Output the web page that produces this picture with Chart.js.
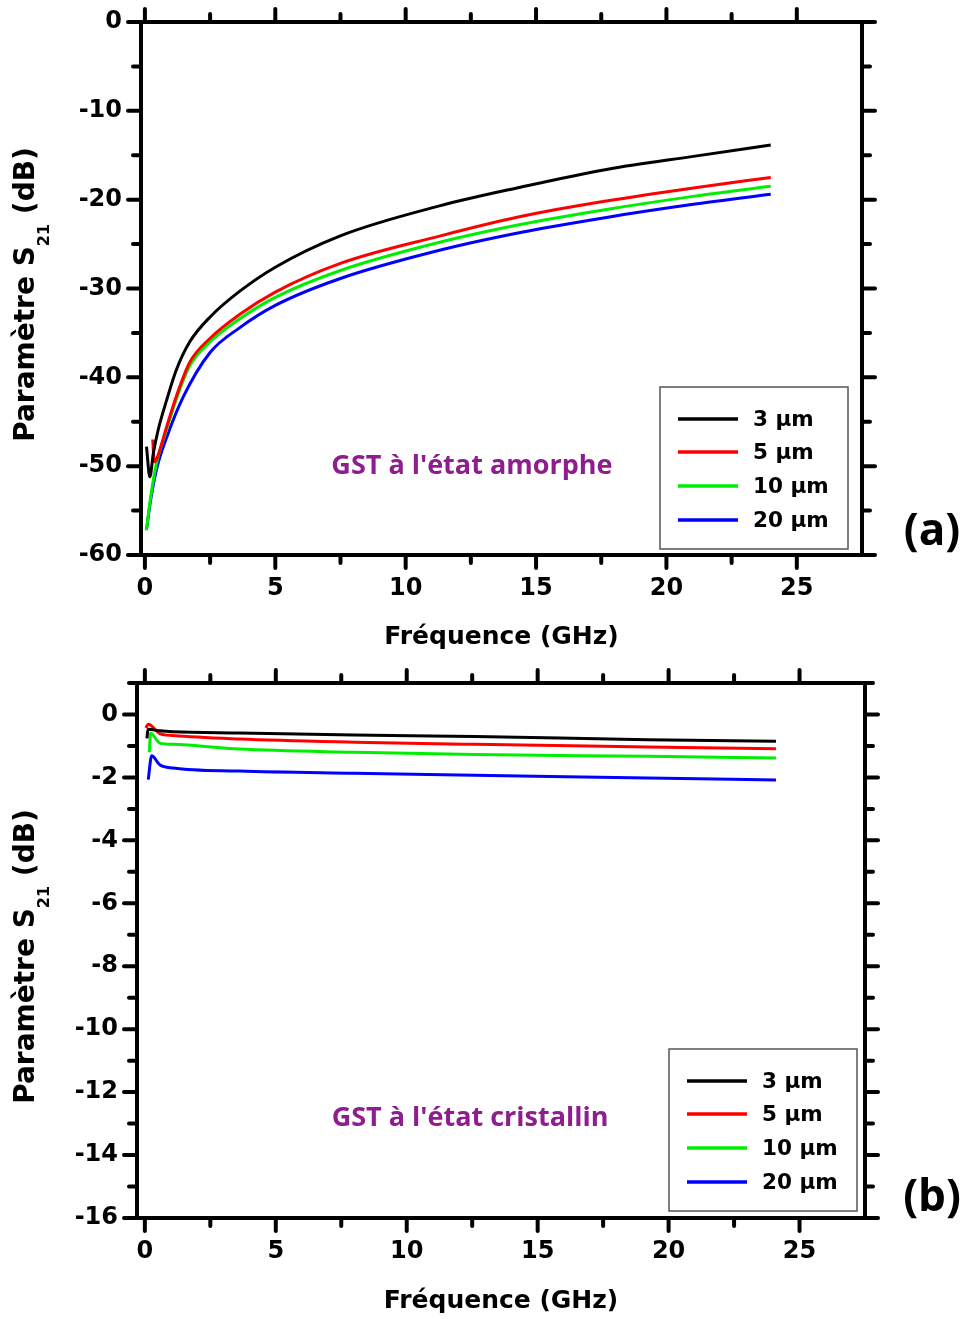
<!DOCTYPE html>
<html>
<head>
<meta charset="utf-8">
<script src="https://cdn.jsdelivr.net/npm/chart.js@4.4.1/dist/chart.umd.min.js"></script>
<style>
  html, body { margin: 0; padding: 0; background: #fff; }
  #wrap { position: relative; width: 962px; height: 1319px; }
  canvas { position: absolute; left: 0; }
  #chartA { top: 0; }
  #chartB { top: 660px; }
</style>
</head>
<body>
<div id="wrap">
  <canvas id="chartA" width="962" height="660"></canvas>
  <canvas id="chartB" width="962" height="659"></canvas>
</div>
<script>
// --- DATA ---
const widthLabels = ['3 µm', '5 µm', '10 µm', '20 µm'];
const lineColors = ['#000000', '#ff0000', '#00ee00', '#0000ff'];

// (a) GST amorphe
const freqA3  = [0.06, 0.19, 0.32, 0.51, 0.83, 1.2, 1.72, 2.5, 3.64, 5, 7.47, 11.3, 14.4, 17.7, 21.1, 24];
const s21A3   = [-47.8, -51.2, -48.6, -45.9, -42.6, -39.2, -36.0, -33.2, -30.3, -27.6, -24.1, -20.7, -18.6, -16.6, -15.1, -13.85];
const freqA5  = [0.3, 0.36, 0.45, 0.83, 1.21, 1.72, 2.5, 3.64, 5, 7.47, 11.3, 14.4, 17.7, 21.1, 24];
const s21A5   = [-47.0, -49.5, -49.2, -45.6, -42.1, -38.3, -35.6, -32.9, -30.4, -27.2, -24.1, -21.9, -20.15, -18.65, -17.5];
const freqA10 = [0.06, 0.15, 0.26, 0.45, 0.83, 1.21, 1.72, 2.5, 3.64, 5, 7.47, 11.3, 14.4, 17.7, 21.1, 24];
const s21A10  = [-57.2, -55.0, -52.7, -49.6, -45.9, -42.4, -38.7, -36.0, -33.4, -31.0, -28.0, -24.8, -22.8, -21.1, -19.6, -18.5];
const freqA20 = [0.06, 0.15, 0.26, 0.45, 0.83, 1.47, 2.5, 3.64, 5, 7.47, 11.3, 14.4, 17.7, 21.1, 24];
const s21A20  = [-57.2, -55.2, -53.1, -50.3, -46.8, -42.2, -37.2, -34.4, -31.9, -28.9, -25.7, -23.7, -22.0, -20.5, -19.4];

// (b) GST cristallin
const freqB3  = [0.08, 0.12, 0.57, 1.08, 3.6, 8, 12.6, 19.2, 24.1];
const s21B3   = [-0.76, -0.47, -0.52, -0.55, -0.59, -0.65, -0.70, -0.80, -0.85];
const freqB5  = [0.04, 0.13, 0.57, 1.08, 3.6, 8, 12.6, 19.2, 24.1];
const s21B5   = [-0.43, -0.31, -0.61, -0.67, -0.78, -0.88, -0.95, -1.03, -1.09];
const freqB10 = [0.17, 0.22, 0.57, 1.08, 3.6, 8, 12.6, 19.2, 24.1];
const s21B10  = [-1.2, -0.6, -0.91, -0.95, -1.10, -1.20, -1.27, -1.33, -1.38];
const freqB20 = [0.13, 0.26, 0.57, 1.08, 3.6, 8, 12.6, 19.2, 24.1];
const s21B20  = [-2.07, -1.31, -1.60, -1.70, -1.80, -1.87, -1.93, -2.02, -2.08];

// ticks
const xTicks = [0, 5, 10, 15, 20, 25];
const xMinor = [2.5, 7.5, 12.5, 17.5, 22.5];
const yTicksA = [0, -10, -20, -30, -40, -50, -60];
const yMinorA = [-5, -15, -25, -35, -45, -55];
const yTicksB = [0, -2, -4, -6, -8, -10, -12, -14, -16];
const yMinorB = [1, -1, -3, -5, -7, -9, -11, -13, -15];

const FONT = 'DejaVu Sans';

function pts(fx, fy) {
    return fx.map((f, i) => ({ x: f, y: fy[i] }));
}

// --- FRAME, MINOR TICKS, LEGEND, LABELS ---
const decor = {
    id: 'decor',
    afterDraw(chart, args, o) {
        const ctx = chart.ctx;
        const a = chart.chartArea;
        const xs = chart.scales.x, ys = chart.scales.y;
        ctx.save();
        ctx.strokeStyle = '#000';
        ctx.lineWidth = 4;
        ctx.lineCap = 'round';
        const seg = (x1, y1, x2, y2) => { ctx.beginPath(); ctx.moveTo(x1, y1); ctx.lineTo(x2, y2); ctx.stroke(); };
        const xt = (vals, len) => vals.forEach(v => {
            const p = xs.getPixelForValue(v);
            if (p < a.left - 1 || p > a.right + 1) return;
            seg(p, a.bottom, p, a.bottom + len);
            seg(p, a.top, p, a.top - len);
        });
        const yt = (vals, len) => vals.forEach(v => {
            const p = ys.getPixelForValue(v);
            if (p < a.top - 1 || p > a.bottom + 1) return;
            seg(a.left, p, a.left - len, p);
            seg(a.right, p, a.right + len, p);
        });
        xt(xTicks, 13); xt(xMinor, 8);
        yt(o.yMajor, 13); yt(o.yMinor, 8);
        ctx.lineCap = 'butt';
        ctx.lineJoin = 'miter';
        ctx.strokeRect(a.left, a.top, a.right - a.left, a.bottom - a.top);

        // legend box
        const bw = 188, bh = 162;
        const bx = a.right - o.legendRight - bw, by = a.bottom - o.legendBottom - bh;
        ctx.lineWidth = 1.5;
        ctx.strokeStyle = '#555';
        ctx.strokeRect(bx, by, bw, bh);
        ctx.font = 'bold 21.5px ' + FONT;
        ctx.textBaseline = 'middle';
        ctx.textAlign = 'left';
        const rows = [32, 65, 99, 133];
        chart.data.datasets.forEach((ds, i) => {
            ctx.strokeStyle = ds.borderColor;
            ctx.lineWidth = 3.5;
            seg(bx + 18, by + rows[i], bx + 78, by + rows[i]);
            ctx.fillStyle = '#000';
            ctx.fillText(ds.label, bx + 93, by + rows[i] + 1);
        });

        // state annotation
        ctx.fillStyle = '#8e1e8e';
        ctx.font = 'bold 27px "Open Sans"';
        ctx.textAlign = 'center';
        ctx.fillText(o.note, xs.getPixelForValue(o.noteX), ys.getPixelForValue(o.noteY));

        // panel letter
        ctx.fillStyle = '#000';
        ctx.font = 'bold 44px "Open Sans"';
        ctx.fillText(o.panel, 932, o.panelY);

        // y axis title with subscript
        ctx.translate(34, (a.top + a.bottom) / 2 + 6);
        ctx.rotate(-Math.PI / 2);
        ctx.textBaseline = 'alphabetic';
        ctx.textAlign = 'left';
        const big = 'bold 28px ' + FONT, small = 'bold 16px ' + FONT;
        ctx.font = big;
        const w1 = ctx.measureText('Paramètre S').width;
        const w3 = ctx.measureText(' (dB)').width;
        ctx.font = small;
        const w2 = ctx.measureText('21').width;
        let x = -(w1 + w2 + w3) / 2;
        ctx.font = big; ctx.fillText('Paramètre S', x, 0); x += w1;
        ctx.font = small; ctx.fillText('21', x, 15); x += w2;
        ctx.font = big; ctx.fillText(' (dB)', x, 0);
        ctx.restore();
    }
};

function makeChart(id, sets, yMin, yMax, yTicks, xMin, pad, xHeight, yWidth, titlePad, decorOpts) {
    const ctx = document.getElementById(id).getContext('2d');
    return new Chart(ctx, {
        type: 'line',
        data: {
            datasets: sets.map((s, i) => ({
                label: widthLabels[i],
                data: pts(s[0], s[1]),
                borderColor: lineColors[i],
                borderWidth: 3,
                pointRadius: 0,
                fill: false,
                cubicInterpolationMode: 'monotone'
            }))
        },
        options: {
            responsive: false,
            animation: false,
            layout: { padding: pad },
            plugins: { legend: { display: false }, tooltip: { enabled: false }, decor: decorOpts },
            scales: {
                x: {
                    type: 'linear', min: xMin, max: 27.5,
                    afterBuildTicks: s => { s.ticks = xTicks.map(v => ({ value: v })); },
                    afterFit: s => { s.height = xHeight; s.paddingLeft = 0; s.paddingRight = 0; },
                    grid: { display: false, drawTicks: false },
                    border: { display: false },
                    ticks: { color: '#000', padding: 19, maxRotation: 0, autoSkip: false,
                             font: { family: FONT, size: 24, weight: 'bold' }, callback: v => String(v) },
                    title: { display: true, text: 'Fréquence (GHz)', color: '#000',
                             font: { family: FONT, size: 25, weight: 'bold' }, padding: { top: 0, bottom: titlePad } }
                },
                y: {
                    type: 'linear', min: yMin, max: yMax,
                    afterBuildTicks: s => { s.ticks = yTicks.map(v => ({ value: v })); },
                    afterFit: s => { s.width = yWidth; s.paddingTop = 0; s.paddingBottom = 0; },
                    grid: { display: false, drawTicks: false },
                    border: { display: false },
                    ticks: { color: '#000', padding: 19, autoSkip: false,
                             font: { family: FONT, size: 24, weight: 'bold' }, callback: v => String(v) }
                }
            }
        },
        plugins: [decor]
    });
}

document.addEventListener('DOMContentLoaded', () => {
    makeChart('chartA',
        [[freqA3, s21A3], [freqA5, s21A5], [freqA10, s21A10], [freqA20, s21A20]],
        -60, 0, yTicksA, -0.15,
        { left: 0, top: 22, right: 100, bottom: 0 }, 105, 141, 8,
        { yMajor: yTicksA, yMinor: yMinorA, legendRight: 14, legendBottom: 6,
          note: "GST à l'état amorphe", noteX: 12.54, noteY: -50, panel: '(a)', panelY: 532 });

    makeChart('chartB',
        [[freqB3, s21B3], [freqB5, s21B5], [freqB10, s21B10], [freqB20, s21B20]],
        -16, 1, yTicksB, -0.3,
        { left: 0, top: 23, right: 97, bottom: 0 }, 101, 137, 3,
        { yMajor: yTicksB, yMinor: yMinorB, legendRight: 8, legendBottom: 7,
          note: "GST à l'état cristallin", noteX: 12.42, noteY: -12.83, panel: '(b)', panelY: 538 });
});
</script>
</body>
</html>
